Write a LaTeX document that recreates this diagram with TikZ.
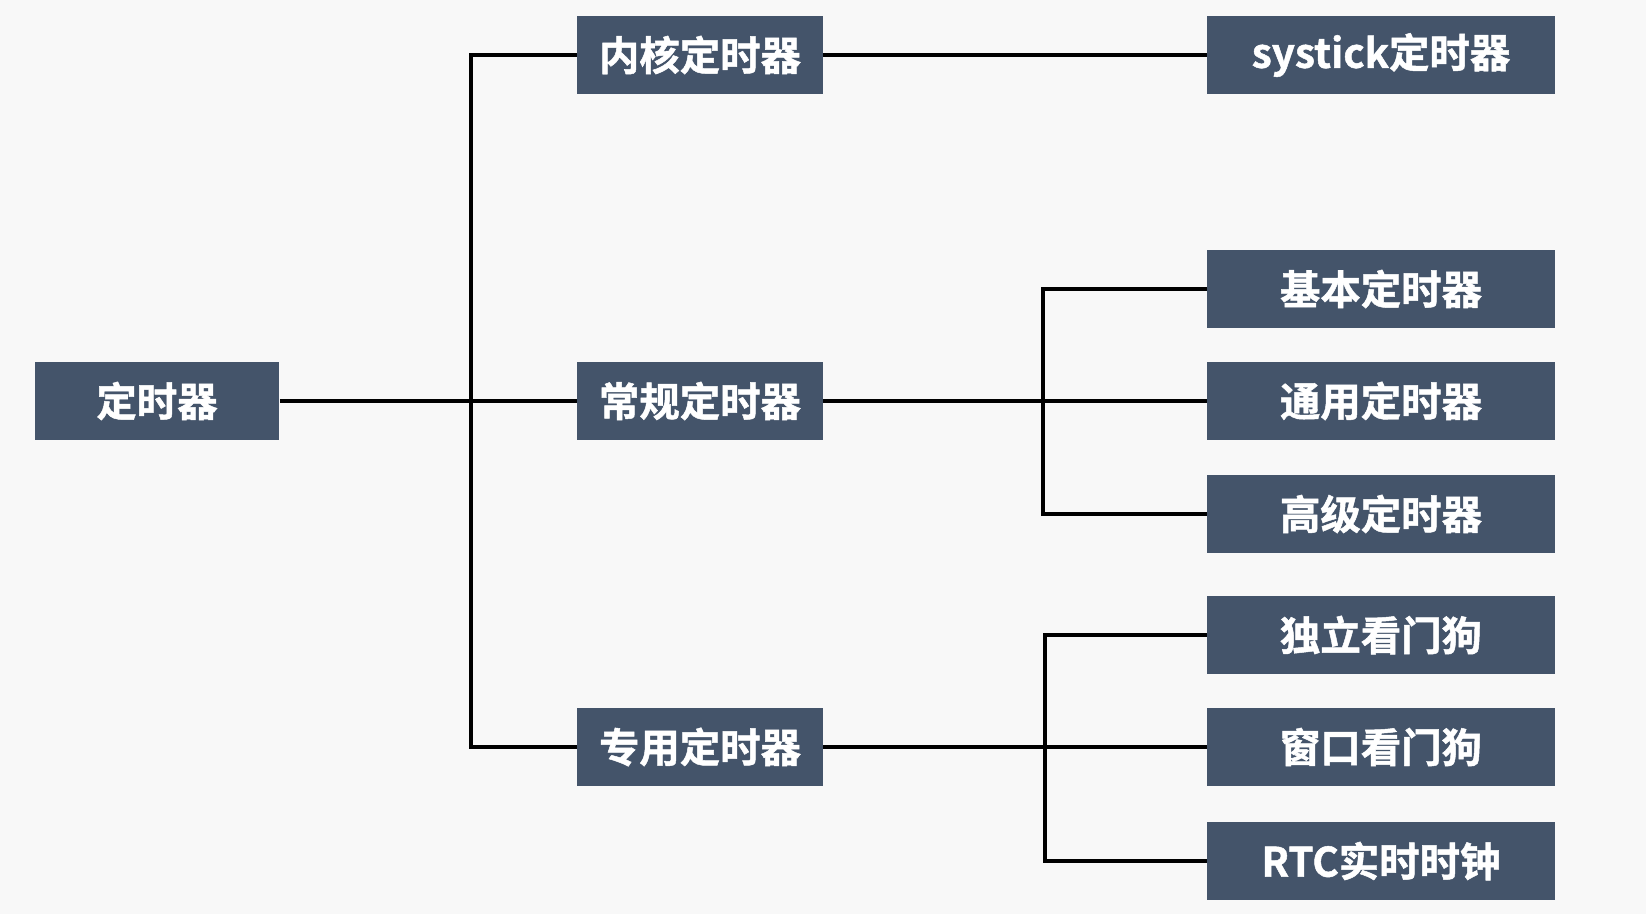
\documentclass[tikz,border=0pt]{standalone}
\usepackage{fontspec}
\newfontfamily\cjk{Noto Sans CJK SC}[BoldFont={* Bold}, BoldFeatures={FakeBold=1.2}]
\usetikzlibrary{positioning}
\definecolor{boxblue}{HTML}{44546A}
\definecolor{paper}{HTML}{F8F8F8}

\begin{document}
\begin{tikzpicture}[x=0.02cm, y=-0.02cm,
        box/.style={fill=boxblue, text=white, inner sep=0pt, minimum height=1.55cm,
            font=\cjk\bfseries\fontsize{23}{27}\selectfont},
        midbox/.style={box, minimum width=4.92cm},
        leafbox/.style={box, minimum width=6.95cm},
        link/.style={line width=2.8pt, black}
    ]
        % Hintergrund
        \fill[paper] (0,0) rectangle (1646,914);
        \useasboundingbox (0,0) rectangle (1646,914);

        % Wurzel
        \node[box, minimum width=4.9cm] (root) at (157,401) {定时器};

        % Mittlere Ebene
        \node[midbox] (kern) at (700,55) {内核定时器};
        \node[midbox] (norm) at (700,401) {常规定时器};
        \node[midbox] (spec) at (700,747) {专用定时器};

        % Blaetter
        \node[leafbox] (systick) at (1381,55) {systick定时器};
        \node[leafbox] (basic) at (1381,289) {基本定时器};
        \node[leafbox] (gen) at (1381,401) {通用定时器};
        \node[leafbox] (adv) at (1381,514) {高级定时器};
        \node[leafbox] (iwdg) at (1381,635) {独立看门狗};
        \node[leafbox] (wwdg) at (1381,747) {窗口看门狗};
        \node[leafbox] (rtc) at (1381,861) {RTC实时时钟};

        % Verzweigungspunkte
        \coordinate (trunk) at (471,0);
        \coordinate (fork1) at (1043,0);
        \coordinate (fork2) at (1045,0);

        % Verbindungen
        \draw[link] (root.east) -- (norm.west);
        \draw[link] (kern.west) -- (kern.west -| trunk) -- (spec.west -| trunk) -- (spec.west);
        \draw[link] (kern.east) -- (systick.west);

        \draw[link] (norm.east) -- (gen.west);
        \draw[link] (basic.west) -- (basic.west -| fork1) -- (adv.west -| fork1) -- (adv.west);

        \draw[link] (spec.east) -- (wwdg.west);
        \draw[link] (iwdg.west) -- (iwdg.west -| fork2) -- (rtc.west -| fork2) -- (rtc.west);
    \end{tikzpicture}
\end{document}
